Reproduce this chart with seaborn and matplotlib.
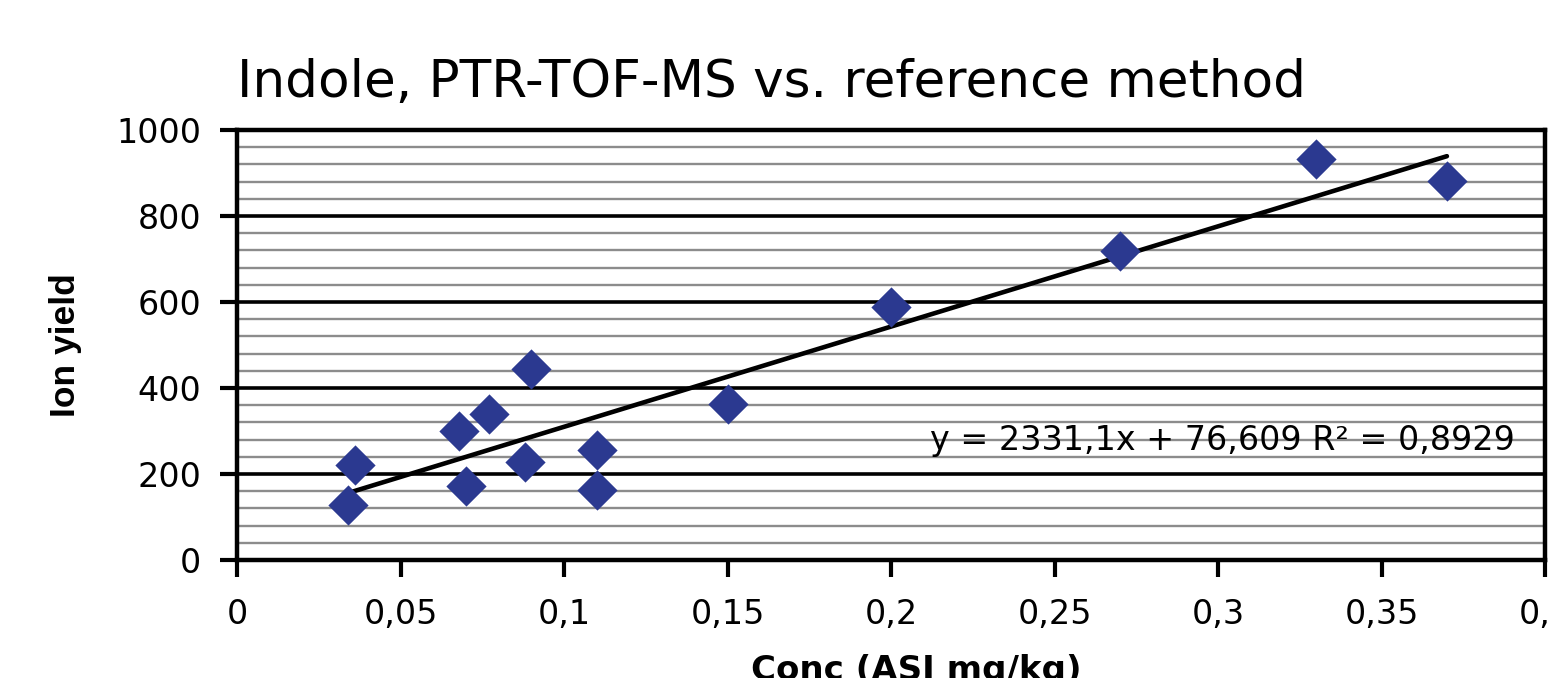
"""Indole: PTR-TOF-MS ion yield against the reference method concentration."""
import matplotlib
matplotlib.use('Agg')
import matplotlib.pyplot as plt
import numpy as np
import pandas as pd
import seaborn as sns
from matplotlib.ticker import FuncFormatter, MultipleLocator

# values
conc = [0.034, 0.036, 0.068, 0.070, 0.077, 0.088, 0.090, 0.110, 0.110, 0.150, 0.200, 0.270, 0.330, 0.370]
ion_yield = [128, 221, 301, 172, 339, 228, 444, 256, 163, 363, 588, 719, 933, 881]
slope, intercept, r2 = 2331.1, 76.609, 0.8929
equation = 'y = 2331,1x + 76,609 R² = 0,8929'

MARKER_BLUE = '#2B3990'
W, H = 1548, 678

sns.set_style('white', rc={'text.color': 'black', 'axes.labelcolor': 'black',
                           'xtick.color': 'black', 'ytick.color': 'black'})
plt.rcParams['font.family'] = ['DejaVu Sans']

df = pd.DataFrame({'conc': conc, 'ion_yield': ion_yield})

fig = plt.figure(figsize=(W / 100, H / 100), dpi=100)
ax = fig.add_axes([237 / W, 1 - 560 / H, 1308 / W, 430 / H])

# gridlines: black every 200, grey every 40
ax.set_xlim(0, 0.4)
ax.set_ylim(0, 1000)
ax.yaxis.set_major_locator(MultipleLocator(200))
ax.yaxis.set_minor_locator(MultipleLocator(40))
ax.xaxis.set_major_locator(MultipleLocator(0.05))
ax.grid(axis='y', which='major', color='black', linewidth=2.6, zorder=0)
ax.grid(axis='y', which='minor', color='#8c8c8c', linewidth=1.7, zorder=0)
ax.set_axisbelow(True)

# trend line over the data range
xs = np.array([min(conc), max(conc)])
sns.lineplot(x=xs, y=slope * xs + intercept, ax=ax, color='black', linewidth=3.3, zorder=2)

sns.scatterplot(data=df, x='conc', y='ion_yield', ax=ax, marker='D', s=420,
                color=MARKER_BLUE, linewidth=0, zorder=3)

comma = FuncFormatter(lambda v, _: f'{v:g}'.replace('.', ','))
ax.xaxis.set_major_formatter(comma)
ax.yaxis.set_major_formatter(comma)
ax.tick_params(axis='both', which='major', direction='out', length=12, width=3,
               color='black', labelsize=24, labelcolor='black',
               bottom=True, left=True)
ax.tick_params(axis='x', which='major', pad=15)
ax.tick_params(axis='y', which='major', pad=14)
ax.tick_params(axis='y', which='minor', length=0)

for side in ['top', 'bottom', 'left', 'right']:
    ax.spines[side].set_color('black')
    ax.spines[side].set_linewidth(3.2)

ax.set_xlabel('Conc (ASI mg/kg)', fontsize=24.5, fontweight='bold')
ax.xaxis.set_label_coords((916 - 237) / 1308, (560 - 654) / 430)
ax.set_ylabel('Ion yield', fontsize=25.5, fontweight='bold', family=['Liberation Sans'])
ax.yaxis.set_label_coords((82 - 237) / 1308, 0.5)

ax.text(0.3014, 256, equation, ha='center', va='baseline', fontsize=24,
        zorder=4)

fig.text(237 / W, 1 - 97 / H, 'Indole, PTR-TOF-MS vs. reference method',
         fontsize=37.2, ha='left', va='baseline')

fig.savefig('out.png', dpi=100)
